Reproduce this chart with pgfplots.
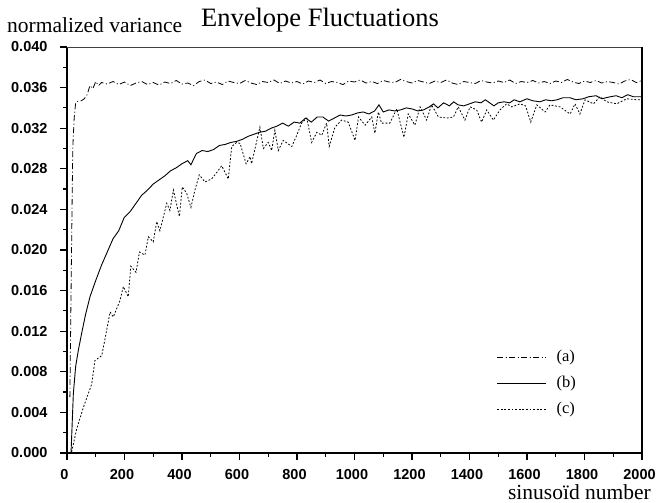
\documentclass[border=0pt]{standalone}
\usepackage{fontspec}
\setmainfont{Liberation Serif}
\setsansfont{Liberation Sans}
\usepackage{pgfplots}
\pgfplotsset{compat=1.18}
\begin{document}
\begin{tikzpicture}
\useasboundingbox (-67pt,-50pt) rectangle (589pt,453pt);
\begin{axis}[
  at={(0pt,0pt)}, anchor=south west,
  scale only axis, width=575pt, height=406pt,
  xmin=0, xmax=2000, ymin=0, ymax=0.040,
  axis x line*=bottom, axis y line*=left,
  axis line style={line width=1.6pt, black},
  xtick={0,200,400,600,800,1000,1200,1400,1600,1800,2000},
  ytick={0,0.004,0.008,0.012,0.016,0.020,0.024,0.028,0.032,0.036,0.040},
  minor x tick num=1, minor y tick num=1,
  tick align=outside,
  major tick length=7pt, minor tick length=4pt,
  tick style={line width=1.2pt, black},
  scaled y ticks=false,
  /pgf/number format/assume math mode=true,
  ticklabel style={font=\sffamily\bfseries\fontsize{14.5}{14.5}\selectfont},
  yticklabel style={xshift=-9pt, /pgf/number format/.cd, fixed, fixed zerofill, precision=3},
  xticklabel style={inner sep=1pt, xshift=-2.5pt, yshift=-8.5pt, /pgf/number format/set thousands separator={}},
  legend cell align=left,
  legend style={draw=none, fill=none, at={(rel axis cs:0.747,0.254)}, anchor=north west,
    font=\fontsize{16.5}{16.5}\selectfont, row sep=11pt, column sep=10pt, inner sep=0pt,
    nodes={inner sep=0pt, text height=11pt, text depth=4pt}},
  legend image code/.code={\draw[#1] (0pt,0pt) -- (49pt,0pt);},
  after end axis/.code={
    \draw[line width=0.8pt, black!75] (rel axis cs:0,1) -- (rel axis cs:1,1);
    \draw[line width=1.6pt, black] (rel axis cs:1,0) -- (rel axis cs:1,1);
  },
]
\addplot[black, line width=0.8pt, dash pattern=on 6pt off 2.5pt on 1pt off 2.5pt] coordinates {
(10,0.0055) (15,0.018) (20,0.0300) (25,0.0330) (30,0.0345) (40,0.0347) (50,0.0347)
(60,0.0349) (70,0.0353) (80,0.0362) (90,0.0359) (100,0.0366) (110,0.0362) (120,0.0365)
(140,0.03635) (160,0.03660) (180,0.03630) (200,0.03655) (220,0.03620) (240,0.03645)
(260,0.03660) (280,0.03630) (300,0.03650) (320,0.03625) (340,0.03655) (360,0.03640)
(380,0.03670) (400,0.03635) (420,0.03645) (440,0.03620) (460,0.03660) (480,0.03675)
(500,0.03640) (520,0.03655) (540,0.03630) (560,0.03665) (580,0.03650) (600,0.03640)
(620,0.03670) (640,0.03645) (660,0.03630) (680,0.03660) (700,0.03650) (720,0.03675)
(740,0.03640) (760,0.03665) (780,0.03645) (800,0.03660) (820,0.03635) (840,0.03665)
(860,0.03650) (880,0.03675) (900,0.03640) (920,0.03660) (940,0.03650) (960,0.03630)
(980,0.03665) (1000,0.03655) (1020,0.03675) (1040,0.03645) (1060,0.03660) (1080,0.03640)
(1100,0.03670) (1120,0.03655) (1140,0.03650) (1160,0.03680) (1180,0.03660) (1200,0.03645)
(1220,0.03670) (1240,0.03655) (1260,0.03640) (1280,0.03665) (1300,0.03650) (1320,0.03675)
(1340,0.03645) (1360,0.03630) (1380,0.03660) (1400,0.03650) (1420,0.03640) (1440,0.03670)
(1460,0.03655) (1480,0.03645) (1500,0.03665) (1520,0.03650) (1540,0.03675) (1560,0.03640)
(1580,0.03660) (1600,0.03650) (1620,0.03670) (1640,0.03645) (1660,0.03660) (1680,0.03640)
(1700,0.03665) (1720,0.03650) (1740,0.03680) (1760,0.03655) (1780,0.03640) (1800,0.03665)
(1820,0.03650) (1840,0.03670) (1860,0.03645) (1880,0.03660) (1900,0.03650) (1920,0.03635)
(1940,0.03665) (1960,0.03680) (1980,0.03650) (2000,0.03670)
};
\addlegendentry{(a)}
\addplot[black, line width=0.9pt] coordinates {
(14,0.0) (22,0.0058) (30,0.0085) (40,0.0102) (51,0.0118) (65,0.0137) (80,0.0154)
(100,0.0170) (120,0.0185) (140,0.0198) (160,0.0211) (180,0.0219) (199,0.0232)
(220,0.0238) (240,0.0246) (260,0.0254) (280,0.0259) (300,0.0265) (320,0.0269)
(340,0.0273) (360,0.0278) (380,0.0281) (400,0.0285) (420,0.0288) (431,0.0284)
(450,0.0295) (470,0.0298) (490,0.0297) (510,0.0299) (530,0.0303) (550,0.0304)
(570,0.0306) (590,0.0307) (610,0.0309) (630,0.0312) (650,0.0314) (670,0.0316)
(690,0.0317) (710,0.0320) (730,0.0322) (750,0.0325) (770,0.0322) (790,0.0326)
(810,0.0325) (830,0.0330) (850,0.0326) (870,0.0331) (890,0.0331) (910,0.0327)
(930,0.0330) (950,0.0333) (970,0.0332) (990,0.0333) (1010,0.0335) (1030,0.0336)
(1050,0.0334) (1070,0.0337) (1085,0.0343) (1100,0.0336) (1120,0.0338) (1140,0.0337)
(1160,0.0338) (1180,0.0340) (1200,0.0339) (1220,0.0337) (1240,0.0338) (1260,0.0341)
(1275,0.0344) (1290,0.0340) (1310,0.0345) (1330,0.0342) (1345,0.0346) (1360,0.0343)
(1380,0.0342) (1400,0.0344) (1420,0.0346) (1440,0.0345) (1455,0.0348) (1470,0.0345)
(1485,0.0342) (1500,0.0345) (1520,0.0346) (1540,0.0345) (1555,0.0348) (1575,0.0346)
(1600,0.0349) (1620,0.0347) (1645,0.0346) (1665,0.0348) (1685,0.0347) (1705,0.0348)
(1725,0.0350) (1750,0.0350) (1770,0.0348) (1795,0.0349) (1815,0.0351) (1840,0.0352)
(1860,0.0349) (1890,0.0351) (1910,0.0352) (1930,0.0350) (1950,0.0353) (1970,0.0351)
(2000,0.0351)
};
\addlegendentry{(b)}
\addplot[black, line width=0.8pt, dash pattern=on 1.8pt off 1.8pt] coordinates {
(16,0.0001) (34,0.0024) (57,0.0045) (86,0.0068) (97,0.0091) (121,0.0096) (138,0.0121)
(150,0.0139) (161,0.0134) (184,0.0150) (196,0.0164) (213,0.0154) (222,0.0184)
(240,0.0178) (252,0.0198) (271,0.0195) (283,0.0213) (300,0.0208) (312,0.0228)
(323,0.0219) (347,0.0246) (358,0.0239) (370,0.0259) (391,0.0233) (401,0.0262)
(416,0.0256) (431,0.0242) (445,0.0259) (460,0.0274) (480,0.0267) (503,0.0270)
(520,0.0276) (538,0.0283) (561,0.0270) (573,0.0302) (590,0.0306) (602,0.0305)
(623,0.0285) (637,0.0292) (642,0.0285) (671,0.0321) (683,0.0300) (700,0.0306)
(712,0.0298) (723,0.0318) (735,0.0298) (752,0.0308) (782,0.0302) (799,0.0313)
(816,0.0325) (834,0.0330) (851,0.0306) (869,0.0316) (886,0.0313) (903,0.0325)
(912,0.0302) (932,0.0321) (955,0.0328) (978,0.0326) (1002,0.0308) (1014,0.0331)
(1037,0.0323) (1060,0.0331) (1071,0.0315) (1083,0.0336) (1094,0.0325) (1123,0.0325)
(1147,0.0339) (1172,0.0311) (1187,0.0334) (1210,0.0323) (1228,0.0341) (1251,0.0328)
(1268,0.0343) (1292,0.0331) (1321,0.0330) (1344,0.0331) (1361,0.0341) (1384,0.0328)
(1402,0.0341) (1425,0.0338) (1442,0.0326) (1460,0.0338) (1483,0.0328) (1506,0.0338)
(1529,0.0344) (1547,0.0341) (1576,0.0344) (1595,0.0342) (1613,0.0326) (1634,0.0343)
(1663,0.0336) (1680,0.0343) (1715,0.0341) (1750,0.0334) (1767,0.0344) (1784,0.0334)
(1802,0.0348) (1831,0.0344) (1854,0.0351) (1877,0.0346) (1912,0.0344) (1947,0.0349)
(1982,0.0348) (2000,0.0348)
};
\addlegendentry{(c)}
\end{axis}
\node[anchor=base, inner sep=0pt, font=\fontsize{26.5}{26.5}\selectfont] at (253pt,426pt) {Envelope Fluctuations};
\node[anchor=base west, inner sep=0pt, font=\fontsize{21.5}{21.5}\selectfont] at (-60pt,420pt) {normalized variance};
\node[anchor=base east, inner sep=0pt, font=\fontsize{21.5}{21.5}\selectfont] at (584pt,-46.5pt) {sinusoïd number};
\end{tikzpicture}
\end{document}
